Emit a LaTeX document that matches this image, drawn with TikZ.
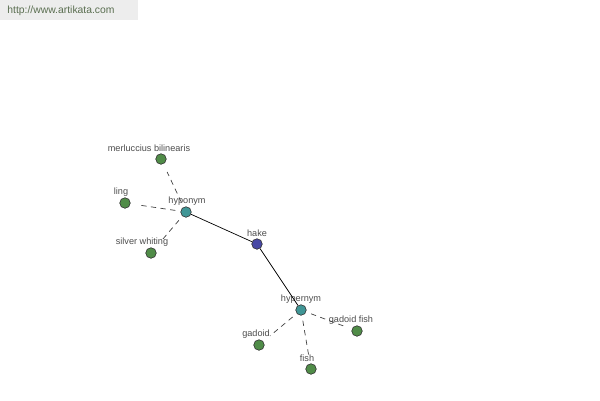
\documentclass[tikz,border=0pt]{standalone}
\usepackage{fontspec}
\setmainfont{Liberation Sans}
\definecolor{leafgreen}{RGB}{80,140,72}
\definecolor{reltealc}{RGB}{64,150,150}
\definecolor{rootblue}{RGB}{72,72,165}
\definecolor{sitegray}{RGB}{90,110,80}
\begin{document}
\begin{tikzpicture}[
    x=0.02cm, y=-0.02cm,
    every node/.style={font=\fontsize{5.2}{6}\selectfont, text=black!70},
    word/.style={circle, draw=black!80, line width=0.35pt, minimum size=6pt, inner sep=0pt},
    leaf/.style={word, fill=leafgreen},
    rel/.style={word, fill=reltealc},
    root/.style={word, fill=rootblue},
    link/.style={black, line width=0.4pt},
    dlink/.style={black!75, line width=0.4pt, dash pattern=on 3pt off 2.5pt, shorten <=3pt, shorten >=5pt}
]
\useasboundingbox (0,0) rectangle (600,400);
\fill[black!7] (0,0) rectangle (138,20);
\node[font=\fontsize{5.9}{7}\selectfont, text=sitegray] (site) at (61,11) {http://www.artikata.com};
% centre and relation nodes
\node[root] (hake) at (257,244) {};
\node[rel] (hypo) at (186,212) {};
\node[rel] (hyper) at (301,310) {};
% leaves
\node[leaf] (merl) at (161,159) {};
\node[leaf] (ling) at (125,203) {};
\node[leaf] (silv) at (151,253) {};
\node[leaf] (gado) at (259,345) {};
\node[leaf] (fish) at (311,369) {};
\node[leaf] (gfish) at (357,331) {};
% labels
\node at (149,148) {merluccius bilinearis};
\node at (121,192) {ling};
\node at (187,201) {hyponym};
\node at (257,233) {hake};
\node at (142,242) {silver whiting};
\node at (301,299) {hypernym};
\node at (256,334) {gadoid};
\node at (307,358) {fish};
\node at (351,320) {gadoid fish};
% connectors
\draw[link] (hake) -- (hypo);
\draw[link] (hake) -- (hyper);
\draw[dlink] (hypo) -- (merl);
\draw[dlink] (hypo) -- (ling);
\draw[dlink] (hypo) -- (silv);
\draw[dlink] (hyper) -- (gado);
\draw[dlink] (hyper) -- (fish);
\draw[dlink] (hyper) -- (gfish);
\end{tikzpicture}
\end{document}
